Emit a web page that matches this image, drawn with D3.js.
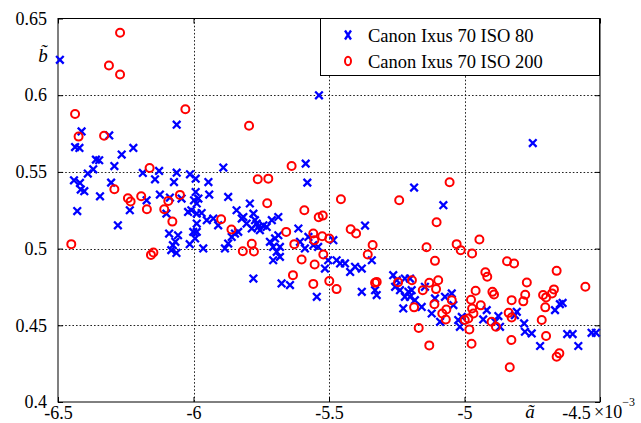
<!DOCTYPE html>
<html>
<head>
<meta charset="utf-8">
<script src="https://cdn.jsdelivr.net/npm/d3@7"></script>
<style>body{margin:0}</style>
</head>
<body>
<script>
// ---- data (a in units of 1e-3, b) ----
const seriesNames = ["Canon Ixus 70 ISO 80", "Canon Ixus 70 ISO 200"];
const xTicks = [-6.5, -6, -5.5, -5, -4.5];
const xTickLabels = ["-6.5", "-6", "-5.5", "-5", "-4.5"];
const yTicks = [0.4, 0.45, 0.5, 0.55, 0.6, 0.65];
const yTickLabels = ["0.4", "0.45", "0.5", "0.55", "0.6", "0.65"];

const iso80Points = [
[-6.493,0.6231],[-5.537,0.5999],[-4.748,0.5688],[-6.413,0.5764],[-6.437,0.5662],[-6.421,0.5656],[-6.311,0.5738],[-6.062,0.5808],[-6.222,0.5656],[-6.265,0.5613],[-6.360,0.5580],[-6.348,0.5576],[-6.292,0.5538],[-6.370,0.5517],[-6.390,0.5489],[-6.441,0.5445],[-6.419,0.5428],[-6.416,0.5385],[-6.403,0.5374],[-6.345,0.5341],[-6.304,0.5430],[-6.187,0.5493],[-6.127,0.5506],[-6.142,0.5452],[-6.062,0.5495],[-6.072,0.5434],[-6.013,0.5484],[-5.992,0.5456],[-5.945,0.5434],[-5.890,0.5528],[-5.992,0.5369],[-5.998,0.5315],[-5.942,0.5352],[-5.872,0.5337],[-6.124,0.5352],[-6.087,0.5333],[-6.173,0.5315],[-6.044,0.5326],[-6.429,0.5245],[-6.279,0.5152],[-6.235,0.5250],[-6.008,0.5250],[-6.090,0.5098],[-6.057,0.5087],[-6.076,0.5022],[-6.067,0.5044],[-6.082,0.4990],[-6.063,0.4972],[-6.014,0.5029],[-6.100,0.5228],[-5.988,0.5163],[-5.988,0.5109],[-5.964,0.5001],[-6.020,0.5239],[-5.970,0.5232],[-5.951,0.5185],[-5.927,0.5196],[-5.884,0.5001],[-5.872,0.5033],[-5.859,0.5076],[-5.847,0.5098],[-5.835,0.5109],[-5.822,0.5196],[-5.804,0.5163],[-5.909,0.5152],[-5.586,0.5554],[-5.580,0.5430],[-5.982,0.5326],[-5.988,0.5294],[-5.988,0.5228],[-6.001,0.5109],[-5.994,0.5066],[-5.841,0.5250],[-5.816,0.5206],[-5.792,0.5294],[-5.779,0.5228],[-5.773,0.5185],[-5.767,0.5163],[-5.761,0.5141],[-5.755,0.5120],[-5.785,0.5131],[-5.742,0.5152],[-5.730,0.5141],[-5.711,0.5185],[-5.687,0.5206],[-5.718,0.5044],[-5.699,0.5066],[-5.687,0.5087],[-5.706,0.5011],[-5.681,0.5011],[-5.693,0.4979],[-5.706,0.4924],[-5.681,0.4946],[-5.613,0.5131],[-5.607,0.5044],[-5.589,0.5001],[-5.558,0.5022],[-5.540,0.5011],[-5.576,0.5076],[-5.779,0.4805],[-5.675,0.4773],[-5.644,0.4762],[-5.545,0.4686],[-5.515,0.4870],[-5.186,0.5398],[-5.078,0.5283],[-5.367,0.5150],[-5.484,0.5055],[-5.503,0.4924],[-5.472,0.4924],[-5.459,0.4903],[-5.441,0.4903],[-5.422,0.4848],[-5.404,0.4881],[-5.379,0.4870],[-5.342,0.4924],[-5.379,0.4718],[-5.324,0.4697],[-5.330,0.4729],[-5.263,0.4827],[-5.250,0.4794],[-5.256,0.4751],[-5.238,0.4729],[-5.220,0.4805],[-5.201,0.4805],[-5.207,0.4718],[-5.195,0.4729],[-5.220,0.4686],[-5.201,0.4686],[-5.183,0.4664],[-5.226,0.4610],[-5.158,0.4620],[-5.146,0.4751],[-5.121,0.4577],[-5.109,0.4675],[-5.090,0.4523],[-5.072,0.4686],[-5.047,0.4708],[-5.041,0.4632],[-5.023,0.4534],[-5.010,0.4555],[-5.017,0.4490],[-4.918,0.4599],[-4.931,0.4538],[-4.875,0.4560],[-4.869,0.4490],[-4.887,0.4523],[-4.807,0.4588],[-4.814,0.4566],[-4.780,0.4512],[-4.777,0.4458],[-4.752,0.4447],[-4.721,0.4365],[-4.666,0.4599],[-4.648,0.4638],[-4.638,0.4646],[-4.621,0.4443],[-4.601,0.4443],[-4.580,0.4365],[-4.531,0.4451],[-4.515,0.4451]
];

const iso200Points = [
[-6.271,0.6407],[-6.312,0.6194],[-6.271,0.6135],[-6.437,0.5877],[-6.424,0.5730],[-6.330,0.5736],[-6.030,0.5908],[-5.795,0.5801],[-6.162,0.5525],[-6.292,0.5387],[-6.242,0.5328],[-6.232,0.5307],[-6.193,0.5341],[-6.172,0.5257],[-6.093,0.5311],[-6.050,0.5350],[-6.108,0.5257],[-6.078,0.5176],[-6.451,0.5029],[-6.157,0.4959],[-6.148,0.4974],[-5.638,0.5538],[-5.763,0.5452],[-5.724,0.5456],[-5.728,0.5296],[-5.591,0.5250],[-5.538,0.5204],[-5.523,0.5215],[-5.898,0.5191],[-5.860,0.5124],[-5.658,0.5109],[-5.628,0.5029],[-5.558,0.5098],[-5.554,0.5055],[-5.525,0.5081],[-5.785,0.5031],[-5.818,0.4983],[-5.777,0.4981],[-5.601,0.4929],[-5.553,0.4896],[-5.521,0.4962],[-5.633,0.4827],[-5.558,0.4770],[-5.499,0.4788],[-5.472,0.4736],[-5.499,0.5066],[-5.456,0.5322],[-5.241,0.5315],[-5.420,0.5126],[-5.400,0.5098],[-5.339,0.5024],[-5.357,0.4962],[-5.330,0.4777],[-5.324,0.4783],[-5.140,0.5009],[-5.103,0.5172],[-5.109,0.4920],[-5.245,0.4781],[-5.194,0.4794],[-5.154,0.4729],[-5.130,0.4777],[-5.097,0.4794],[-5.186,0.4617],[-5.111,0.4638],[-5.169,0.4482],[-5.029,0.5029],[-5.014,0.4990],[-5.105,0.4736],[-5.047,0.4664],[-5.082,0.4577],[-5.067,0.4603],[-5.069,0.4538],[-5.130,0.4369],[-4.945,0.5059],[-4.972,0.4968],[-4.843,0.4918],[-4.817,0.4903],[-4.660,0.4855],[-4.923,0.4846],[-4.916,0.4816],[-4.770,0.4779],[-4.554,0.4751],[-4.959,0.4725],[-4.897,0.4718],[-4.891,0.4701],[-4.670,0.4734],[-4.677,0.4708],[-4.710,0.4697],[-4.699,0.4682],[-4.776,0.4699],[-4.783,0.4656],[-4.826,0.4664],[-4.976,0.4666],[-4.940,0.4630],[-4.972,0.4610],[-4.967,0.4577],[-4.986,0.4545],[-4.999,0.4534],[-4.702,0.4617],[-4.837,0.4581],[-4.826,0.4551],[-4.900,0.4523],[-4.884,0.4490],[-4.715,0.4534],[-4.982,0.4473],[-4.699,0.4430],[-4.827,0.4404],[-4.974,0.4380],[-4.650,0.4317],[-4.660,0.4295],[-4.833,0.4226],[-5.055,0.5432]
];

// ---- layout ----
const fontNames = ["Liberation Serif"];
const svg = d3.select("body").append("svg").attr("id", "fig").attr("width", 641).attr("height", 423)
  .style("display", "block");
const L = 58, R = 600, T = 18.5, B = 402;
const x = d3.scaleLinear().domain([-6.5, -4.5]).range([L, R]);
const y = d3.scaleLinear().domain([0.4, 0.65]).range([B, T]);
const FS = 18;

// grid
const grid = svg.append("g").attr("stroke", "#222").attr("stroke-width", 1).attr("stroke-dasharray", "1.6,2");
grid.selectAll("line.gx").data(xTicks.slice(1, -1)).join("line")
  .attr("x1", d => Math.round(x(d)) + 0.5).attr("x2", d => Math.round(x(d)) + 0.5)
  .attr("y1", T).attr("y2", B);
grid.selectAll("line.gy").data(yTicks.slice(1, -1)).join("line")
  .attr("y1", d => Math.round(y(d)) + 0.5).attr("y2", d => Math.round(y(d)) + 0.5)
  .attr("x1", L).attr("x2", R);

// axes
const xLab = d => xTickLabels[xTicks.indexOf(d)];
const yLab = d => yTickLabels[yTicks.indexOf(d)];
const gx = svg.append("g").attr("transform", `translate(0,${B})`)
  .call(d3.axisBottom(x).tickValues(xTicks).tickFormat(xLab).tickSizeInner(-5).tickSizeOuter(0).tickPadding(4));
const gy = svg.append("g").attr("transform", `translate(${L},0)`)
  .call(d3.axisLeft(y).tickValues(yTicks).tickFormat(yLab).tickSizeInner(-5).tickSizeOuter(0).tickPadding(11));
svg.append("g").attr("transform", `translate(0,${T})`)
  .call(d3.axisTop(x).tickValues(xTicks).tickFormat("").tickSizeInner(-5).tickSizeOuter(0));
svg.append("g").attr("transform", `translate(${R},0)`)
  .call(d3.axisRight(y).tickValues(yTicks).tickFormat("").tickSizeInner(-5).tickSizeOuter(0));
svg.selectAll(".domain").remove();
svg.selectAll(".tick line").attr("stroke", "#000");
svg.selectAll(".tick text").attr("font-size", FS).attr("fill", "#000");
gx.selectAll(".tick text").filter(d => d === -4.5).attr("dx", -24);

// box
svg.append("rect").attr("x", L).attr("y", T).attr("width", R - L).attr("height", B - T)
  .attr("fill", "none").attr("stroke", "#000").attr("stroke-width", 1);

// markers
const crossPath = "M-3.8,-3.8L3.8,3.8M-3.8,3.8L3.8,-3.8";
const plot = svg.append("g");
plot.selectAll("path.iso80").data(iso80Points).join("path")
  .attr("class", "iso80")
  .attr("transform", d => `translate(${x(d[0])},${y(d[1])})`)
  .attr("d", crossPath).attr("stroke", "#0000ff").attr("stroke-width", 2.3).attr("fill", "none");
plot.selectAll("circle.iso200").data(iso200Points).join("circle")
  .attr("class", "iso200")
  .attr("cx", d => x(d[0])).attr("cy", d => y(d[1])).attr("r", 4)
  .attr("stroke", "#ff0000").attr("stroke-width", 2).attr("fill", "none");

// axis labels
svg.append("text").attr("x", 43).attr("y", 62).attr("text-anchor", "middle")
  .attr("font-size", FS + 1).attr("font-style", "italic").text("b\u0303");
svg.append("text").attr("x", 530).attr("y", 418).attr("text-anchor", "middle")
  .attr("font-size", FS + 1).attr("font-style", "italic").text("\u00e3");
const expo = svg.append("text").attr("x", 594).attr("y", 418).attr("font-size", FS);
expo.append("tspan").text("\u00d710");
expo.append("tspan").attr("font-size", 12).attr("dy", -12).text("\u22123");

// legend
const lg = svg.append("g");
lg.append("rect").attr("x", 320.5).attr("y", 18.5).attr("width", 279).attr("height", 57)
  .attr("fill", "#fff").attr("stroke", "#000").attr("stroke-width", 1);
const legY = [35, 61];
lg.append("path").attr("transform", `translate(348,${legY[0]})`).attr("d", "M-3,-4.5L3,4.5M-3,4.5L3,-4.5")
  .attr("stroke", "#0000ff").attr("stroke-width", 2.3).attr("fill", "none");
lg.append("ellipse").attr("cx", 348).attr("cy", legY[1]).attr("rx", 3).attr("ry", 4.2)
  .attr("stroke", "#ff0000").attr("stroke-width", 2).attr("fill", "none");
lg.selectAll("text.leg").data(seriesNames).join("text").attr("class", "leg")
  .attr("x", 368).attr("y", (d, i) => legY[i] + 6.7).attr("font-size", 18.5).text(d => d);

// serif font on every text
svg.selectAll("g").attr("font-family", null);
svg.selectAll("text").style("font-family", () => `"${fontNames[0]}"`).style("fill", "#000");
</script>
</body>
</html>
